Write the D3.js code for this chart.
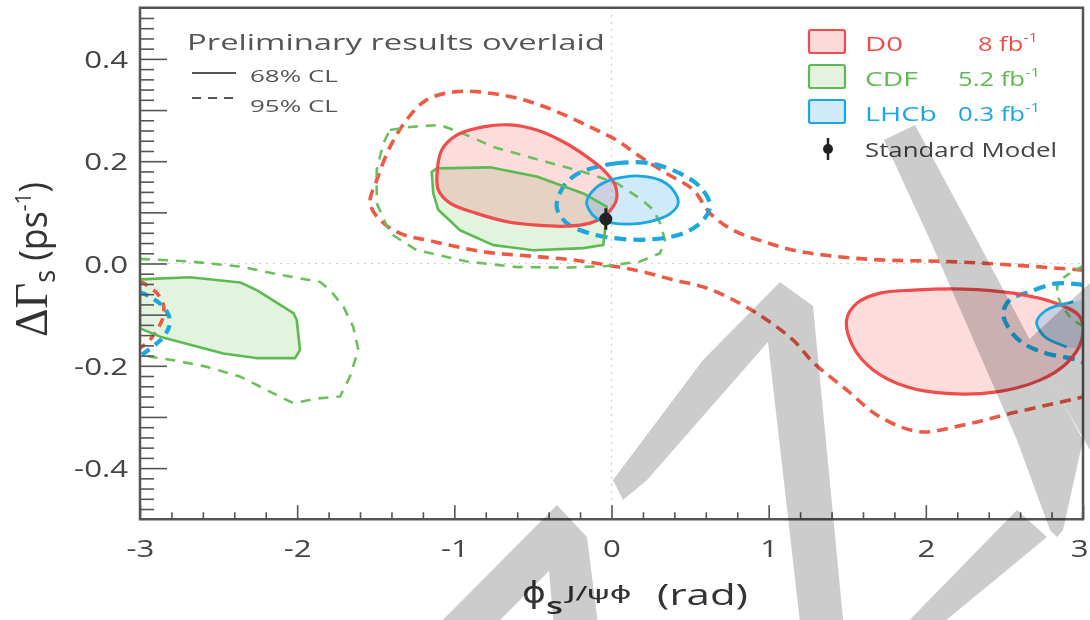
<!DOCTYPE html>
<html><head><meta charset="utf-8">
<script src="https://cdn.jsdelivr.net/npm/d3@7"></script>
<style>body{margin:0;background:#fff}svg{display:block}</style>
</head><body><svg id="c" width="1090" height="620"></svg>
<script>
// ---------------- data (phi_s [rad], DeltaGamma_s [ps^-1]) ----------------
const xTicks = [-3, -2, -1, 0, 1, 2, 3];
const yTickLabels = [-0.4, -0.2, 0.0, 0.2, 0.4];

const D0_68_central = [[-1.108,0.183],[-1.080,0.222],[-0.985,0.251],[-0.816,0.267],[-0.646,0.271],[-0.476,0.261],[-0.307,0.238],[-0.158,0.209],[-0.052,0.183],[0.022,0.154],[0.033,0.127],[0.011,0.111],[-0.052,0.091],[-0.137,0.079],[-0.285,0.073],[-0.476,0.075],[-0.667,0.082],[-0.858,0.098],[-1.027,0.118],[-1.102,0.144]];
const D0_68_right = [[1.496,-0.110],[1.560,-0.078],[1.708,-0.058],[1.920,-0.052],[2.238,-0.050],[2.556,-0.058],[2.832,-0.078],[2.980,-0.104],[2.991,-0.150],[2.896,-0.195],[2.726,-0.228],[2.450,-0.251],[2.132,-0.254],[1.878,-0.241],[1.665,-0.208],[1.538,-0.163]];
const D0_95_main = [[3.0,-0.013],[2.554,-0.003],[2.132,0.004],[1.708,0.007],[1.390,0.015],[1.157,0.026],[0.966,0.043],[0.775,0.065],[0.627,0.098],[0.520,0.144],[0.351,0.176],[0.181,0.209],[0.033,0.241],[-0.137,0.267],[-0.349,0.297],[-0.561,0.320],[-0.773,0.333],[-0.985,0.336],[-1.176,0.320],[-1.303,0.281],[-1.409,0.228],[-1.494,0.163],[-1.536,0.118],[-1.473,0.085],[-1.345,0.059],[-1.134,0.043],[-0.816,0.023],[-0.455,0.013],[-0.243,0.007],[-0.031,-0.003],[0.181,-0.015],[0.393,-0.032],[0.606,-0.048],[0.817,-0.078],[0.987,-0.110],[1.157,-0.150],[1.282,-0.193],[1.496,-0.247],[1.708,-0.300],[1.962,-0.329],[2.236,-0.316],[2.554,-0.292],[3.0,-0.261]];
const D0_95_left = [[-3.0,-0.034],[-2.893,-0.058],[-2.851,-0.081],[-2.855,-0.107],[-2.893,-0.130],[-2.947,-0.153],[-3.0,-0.165]];

const CDF_68_central = [[-1.144,0.179],[-1.112,0.186],[-0.773,0.188],[-0.476,0.170],[-0.179,0.137],[-0.031,0.111],[-0.041,0.065],[-0.052,0.036],[-0.179,0.030],[-0.497,0.026],[-0.752,0.036],[-0.964,0.065],[-1.102,0.105],[-1.134,0.137]];
const CDF_68_left = [[-3.0,-0.031],[-2.681,-0.027],[-2.363,-0.037],[-2.257,-0.052],[-2.024,-0.097],[-2.003,-0.110],[-1.982,-0.169],[-2.013,-0.185],[-2.257,-0.185],[-2.469,-0.176],[-2.681,-0.159],[-2.872,-0.143],[-3.0,-0.127]];
const CDF_95_central = [[-1.409,0.261],[-1.282,0.267],[-1.091,0.271],[-0.921,0.251],[-0.752,0.228],[-0.455,0.202],[-0.179,0.179],[0.033,0.157],[0.181,0.127],[0.266,0.105],[0.309,0.079],[0.340,0.046],[0.309,0.020],[0.181,0.004],[-0.031,-0.005],[-0.285,-0.008],[-0.603,-0.007],[-0.921,0.004],[-1.239,0.026],[-1.409,0.059],[-1.494,0.118],[-1.494,0.183],[-1.452,0.235]];
const CDF_95_left = [[-3.0,0.009],[-2.681,0.004],[-2.363,-0.006],[-2.109,-0.022],[-1.854,-0.036],[-1.791,-0.052],[-1.706,-0.084],[-1.643,-0.124],[-1.611,-0.169],[-1.664,-0.221],[-1.727,-0.260],[-1.875,-0.264],[-2.024,-0.273],[-2.151,-0.254],[-2.363,-0.221],[-2.575,-0.202],[-2.788,-0.189],[-2.936,-0.182],[-3.0,-0.177]];
const CDF_95_right = [[3.0,-0.005],[2.917,-0.019],[2.842,-0.039],[2.842,-0.065],[2.884,-0.091],[2.937,-0.110],[3.0,-0.122]];

const LHCb_68_central = [[-0.158,0.121],[-0.099,0.148],[-0.010,0.163],[0.075,0.169],[0.181,0.171],[0.309,0.163],[0.391,0.144],[0.425,0.118],[0.372,0.097],[0.245,0.082],[0.118,0.077],[-0.010,0.080],[-0.094,0.088],[-0.143,0.105]];
const LHCb_68_right = [[3.0,-0.071],[2.938,-0.075],[2.768,-0.091],[2.705,-0.114],[2.726,-0.132],[2.768,-0.146],[2.896,-0.163],[3.0,-0.169]];
const LHCb_95_central = [[-0.158,0.183],[0.033,0.196],[0.245,0.196],[0.436,0.176],[0.563,0.150],[0.627,0.114],[0.584,0.085],[0.457,0.059],[0.245,0.047],[0.033,0.049],[-0.137,0.059],[-0.285,0.079],[-0.349,0.111],[-0.307,0.150],[-0.243,0.170]];
const LHCb_95_right = [[3.0,-0.042],[2.832,-0.039],[2.662,-0.055],[2.535,-0.071],[2.492,-0.097],[2.535,-0.130],[2.620,-0.156],[2.768,-0.176],[2.917,-0.185],[3.0,-0.193]];
const LHCb_95_left = [[-3.0,-0.056],[-2.936,-0.065],[-2.841,-0.088],[-2.809,-0.114],[-2.841,-0.140],[-2.904,-0.159],[-3.0,-0.181]];

const SM_phi = [-0.036];
const SM_dG = [0.087];
const SM_err = [0.021];

const legendNames = ["D0", "CDF", "LHCb"];
const legendLumi = ["8 fb", "5.2 fb", "0.3 fb"];

// grey overlay strokes printed over the picture (not data; page pixels)
const overlayPx = [
  [[423,640],[557,505],[587,537],[600,640],[555,640],[549,571],[480,640]],
  [[623,500],[613,480],[703,360],[780,282],[813,306],[845,640],[802,640],[768,342],[647,480]],
  [[884,140],[915,125],[977,240],[1083,440],[1063,530],[1057,537],[1050,530],[1017,440],[930,240]],
  [[1017,510],[1047,537],[922,640],[890,640]],
  [[1023,345],[1090,283],[1090,450],[1040,362]]
];

// ---------------- setup ----------------
const FONT = "'Open Sans','Noto Sans',sans-serif";
const svg = d3.select("#c");
const x = d3.scaleLinear().domain([-3, 3]).range([140, 1083]);
const y = d3.scaleLinear().domain([-0.5, 0.5]).range([519.25, 7.75]);

const RED = "#ef4c4c", RED_D = "#ec5a46", GREEN = "#5dba52", GREEN_D = "#6cc05c", BLUE = "#1ba7df";
const FILL_R = "rgba(245,95,95,0.22)", FILL_G = "rgba(110,195,90,0.20)", FILL_B = "rgba(70,175,235,0.26)";

svg.append("defs").append("clipPath").attr("id", "clip")
  .append("rect").attr("x", 140).attr("y", 7.75).attr("width", 943).attr("height", 511.5);

// gridlines (dotted) at 0
const grid = svg.append("g").attr("stroke", "#c9ccd6").attr("stroke-width", 1.2).attr("stroke-dasharray", "2,5");
grid.append("line").attr("x1", x(-3)).attr("x2", x(3)).attr("y1", y(0)).attr("y2", y(0));
grid.append("line").attr("x1", x(0)).attr("x2", x(0)).attr("y1", y(0.5)).attr("y2", y(-0.5));

const plot = svg.append("g").attr("clip-path", "url(#clip)");
const lineSmoothC = d3.line().x(d => x(d[0])).y(d => y(d[1])).curve(d3.curveCatmullRomClosed.alpha(0.5));
const lineSmooth = d3.line().x(d => x(d[0])).y(d => y(d[1])).curve(d3.curveCatmullRom.alpha(0.5));
const linePolyC = d3.line().x(d => x(d[0])).y(d => y(d[1])).curve(d3.curveLinearClosed);
const linePoly = d3.line().x(d => x(d[0])).y(d => y(d[1])).curve(d3.curveLinear);

// fills
plot.append("path").attr("d", linePolyC(CDF_68_left)).attr("fill", FILL_G);
plot.append("path").attr("d", linePolyC(CDF_68_central)).attr("fill", FILL_G);
plot.append("path").attr("d", lineSmoothC(D0_68_central)).attr("fill", FILL_R);
plot.append("path").attr("d", lineSmoothC(D0_68_right)).attr("fill", FILL_R);
plot.append("path").attr("d", lineSmoothC(LHCb_68_central)).attr("fill", FILL_B);
plot.append("path").attr("d", linePolyC(LHCb_68_right)).attr("fill", FILL_B);

// 95% dashed contours
function dashed(d, color, w, dash) {
  plot.append("path").attr("d", d).attr("fill", "none").attr("stroke", color)
    .attr("stroke-width", w).attr("stroke-dasharray", dash).attr("stroke-linejoin", "round");
}
dashed(lineSmooth(D0_95_main), RED_D, 3.6, "11,7");
dashed(lineSmooth(D0_95_left), RED_D, 3.6, "9,7");
dashed(linePolyC(CDF_95_central), GREEN_D, 2.6, "10,8");
dashed(linePoly(CDF_95_left), GREEN_D, 2.6, "10,8");
dashed(lineSmooth(CDF_95_right), GREEN_D, 2.6, "8,7");
dashed(lineSmoothC(LHCb_95_central), BLUE, 4.2, "12,7");
dashed(lineSmooth(LHCb_95_right), BLUE, 4.2, "12,7");
dashed(lineSmooth(LHCb_95_left), BLUE, 4.2, "9,7");

// 68% solid outlines
function solid(d, color, w) {
  plot.append("path").attr("d", d).attr("fill", "none").attr("stroke", color)
    .attr("stroke-width", w).attr("stroke-linejoin", "round");
}
solid(linePolyC(CDF_68_left), GREEN, 2.6);
solid(linePolyC(CDF_68_central), GREEN, 2.6);
solid(lineSmoothC(D0_68_central), RED, 3.2);
solid(lineSmoothC(D0_68_right), RED, 3.2);
solid(lineSmoothC(LHCb_68_central), BLUE, 2.8);
solid(lineSmooth(LHCb_68_right.slice(1, -1)), BLUE, 2.8);

// Standard Model point
const sm = svg.append("g");
SM_phi.forEach((p, i) => {
  sm.append("line").attr("x1", x(p)).attr("x2", x(p)).attr("y1", y(SM_dG[i] + SM_err[i])).attr("y2", y(SM_dG[i] - SM_err[i]))
    .attr("stroke", "#222").attr("stroke-width", 3);
  sm.append("circle").attr("cx", x(p)).attr("cy", y(SM_dG[i])).attr("r", 6.5).attr("fill", "#222");
});

// ---------------- axes ----------------
const AX = "#555", TXT = "#444";
const yMajor = d3.range(-4, 5).map(k => k / 10);
const yMinor = d3.range(-25, 26).map(k => k / 50).filter(v => Math.abs(v * 10 - Math.round(v * 10)) > 1e-6);
const xMinor = d3.range(-15, 16).map(k => k / 5).filter(v => Math.abs(v - Math.round(v)) > 1e-6);

const yAx = svg.append("g").attr("transform", "translate(140,0)")
  .call(d3.axisLeft(y).tickValues(yMajor).tickSize(-27).tickPadding(12)
    .tickFormat(d => yTickLabels.some(v => Math.abs(v - d) < 1e-9) ? d.toFixed(1) : ""));
svg.append("g").attr("transform", "translate(140,0)")
  .call(d3.axisLeft(y).tickValues(yMinor).tickSize(-14).tickFormat(""))
  .call(g => g.select(".domain").remove());
const xAx = svg.append("g").attr("transform", "translate(0,519.25)")
  .call(d3.axisBottom(x).tickValues(xTicks).tickSize(-14).tickFormat(d => String(d)));
svg.append("g").attr("transform", "translate(0,519.25)")
  .call(d3.axisBottom(x).tickValues(xMinor).tickSize(-7).tickFormat(""))
  .call(g => g.select(".domain").remove());

svg.selectAll(".domain").remove();
svg.selectAll(".tick line").attr("stroke", AX).attr("stroke-width", 1.6);
yAx.selectAll(".tick text").attr("font-family", FONT).attr("font-size", 24).attr("fill", TXT)
  .attr("x", -12 / 1.3).attr("dy", "0.36em").attr("transform", "scale(1.3,1)");
xAx.selectAll(".tick text").attr("font-family", FONT).attr("font-size", 24).attr("fill", TXT)
  .attr("y", 38).attr("dy", 0).attr("transform", "scale(1.3,1)")
  .filter(d => d === 3).attr("text-anchor", "end").attr("x", 5 / 1.3);

// frame
svg.append("rect").attr("x", 140).attr("y", 7.75).attr("width", 943).attr("height", 511.5)
  .attr("fill", "none").attr("stroke", AX).attr("stroke-width", 2.5);

// ---------------- text helpers ----------------
function rich(t, parts, base) {
  let cur = 0;
  parts.forEach(p => {
    const s = t.append("tspan").text(p.t).attr("font-size", p.size || base);
    const off = p.off || 0;
    if (off - cur !== 0) s.attr("dy", off - cur);
    cur = off;
    if (p.family) s.attr("font-family", p.family);
  });
}
function fit(x0, y0, width, anchor, parts, base, color, family, weight) {
  const g = svg.append("g");
  const t = g.append("text").attr("font-family", family || FONT).attr("fill", color);
  if (weight) t.attr("font-weight", weight);
  rich(t, parts, base);
  const bb = t.node().getBBox();
  const sx = width / bb.width;
  let tx;
  if (anchor === "start") tx = x0 - bb.x * sx;
  else if (anchor === "end") tx = x0 - (bb.x + bb.width) * sx;
  else tx = x0 - (bb.x + bb.width / 2) * sx;
  g.attr("transform", `translate(${tx},${y0}) scale(${sx},1)`);
  return g;
}

// x-axis title: phi_s^{J/psi phi} (rad)
fit(522, 603, 24, "start", [{t: "\u03D5"}], 30, "#333", "'DejaVu Sans',sans-serif");
fit(546, 614, 17, "start", [{t: "s"}], 24, "#333", FONT, 600);
fit(564, 599, 68, "start", [{t: "J/\u03C8\u03D5"}], 18, "#333", "'DejaVu Sans',sans-serif");
fit(657, 605, 91, "start", [{t: "(rad)"}], 30, "#333");

// y-axis title: DeltaGamma_s (ps^-1)
(function () {
  const g = svg.append("g");
  const t = g.append("text").attr("fill", "#333").attr("font-family", FONT);
  rich(t, [
    {t: "\u0394\u0393", size: 36, family: "'Liberation Serif','DejaVu Serif',serif"},
    {t: "s", size: 22, off: 6},
    {t: "  (ps", size: 29, off: 0},
    {t: "-1", size: 17, off: -12},
    {t: ")", size: 29, off: 0}
  ], 29);
  const bb = t.node().getBBox();
  const k = 155 / bb.width;
  g.attr("transform", `translate(47,337) scale(1.3,1) rotate(-90) scale(${k},1) translate(${-bb.x},0)`);
})();

// top-left legend
fit(187, 50, 418, "start", [{t: "Preliminary results overlaid"}], 21, "#555");
fit(250, 82, 88, "start", [{t: "68% CL"}], 17, "#555");
fit(250, 112, 88, "start", [{t: "95% CL"}], 17, "#555");
svg.append("line").attr("x1", 192).attr("x2", 236).attr("y1", 73).attr("y2", 73).attr("stroke", "#555").attr("stroke-width", 2);
svg.append("line").attr("x1", 192).attr("x2", 236).attr("y1", 98).attr("y2", 98).attr("stroke", "#555").attr("stroke-width", 2).attr("stroke-dasharray", "9,7");

// right legend
const legFill = ["#fddada", "#e3f3dd", "#cfeaf8"];
const legStroke = [RED, GREEN, BLUE];
const legTop = [30, 65, 100];
const nameW = [38, 53, 72];
const lumiX = [[978, 60], [958, 82], [958, 82]];
legendNames.forEach((n, i) => {
  svg.append("rect").attr("x", 809).attr("y", legTop[i]).attr("width", 36).attr("height", 23).attr("rx", 2)
    .attr("fill", legFill[i]).attr("stroke", legStroke[i]).attr("stroke-width", 2.2);
  fit(865, legTop[i] + 21, nameW[i], "start", [{t: n}], 20, legStroke[i]);
  fit(lumiX[i][0], legTop[i] + 21, lumiX[i][1], "start", [{t: legendLumi[i]}, {t: "-1", size: 13, off: -9}], 20, legStroke[i]);
});
svg.append("line").attr("x1", 828).attr("x2", 828).attr("y1", 138).attr("y2", 160).attr("stroke", "#222").attr("stroke-width", 2.5);
svg.append("circle").attr("cx", 828).attr("cy", 149).attr("r", 5).attr("fill", "#222");
fit(865, 157, 192, "start", [{t: "Standard Model"}], 20, "#444");

// grey overlay on top (multiplied)
svg.append("g").style("mix-blend-mode", "multiply").selectAll("path").data(overlayPx).join("path")
  .attr("d", d => "M" + d.map(p => p.join(",")).join("L") + "Z")
  .attr("fill", "#cccccc");
</script></body></html>
